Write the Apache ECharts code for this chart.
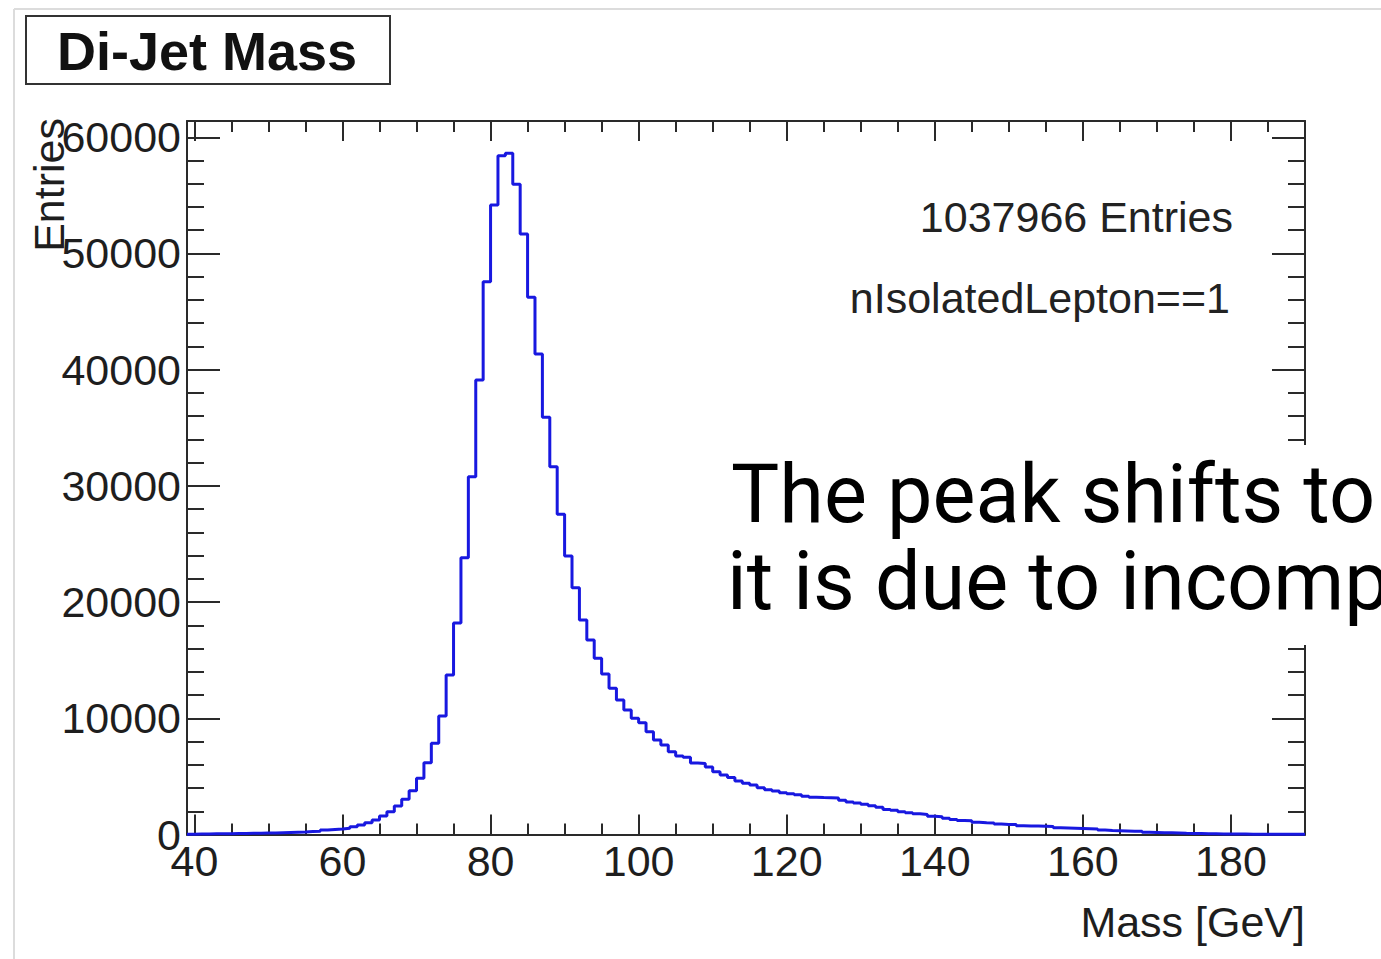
<!DOCTYPE html>
<html>
<head>
<meta charset="utf-8">
<script src="https://cdn.jsdelivr.net/npm/echarts@6/dist/echarts.min.js"></script>
<style>
html,body{margin:0;padding:0;background:#fff;}
#chart{width:1381px;height:959px;}
</style>
</head>
<body>
<div id="chart"></div>
<script>
// ---- data ----
const titleText = 'Di-Jet Mass';
const xAxisTitle = 'Mass [GeV]';
const yAxisTitle = 'Entries';
const statsLines = ['1037966 Entries', 'nIsolatedLepton==1'];
const overlayLines = ['The peak shifts to', 'it is due to incomp'];

const binLow = 39;      // lower edge of first bin (GeV)
const binWidth = 1;     // GeV
const xRange = [39, 190];
const yRange = [0, 61400];

// entries per 1 GeV bin, from 39 GeV to 190 GeV
const counts = [
  30, 40, 50, 55, 60, 70, 80, 90, 100, 110,            // 39-48
  120, 130, 150, 170, 190, 210, 250, 290, 380, 430,    // 49-58
  480, 540, 670, 820, 1010, 1250, 1590, 1960, 2450, 3030, // 59-68
  3770, 4840, 6180, 7850, 10200, 13730, 18200, 23820, 30790, 39110, // 69-78
  47570, 54170, 58420, 58620, 55960, 51680, 46230, 41350, 35900, 31650, // 79-88
  27560, 23970, 21240, 18460, 16740, 15160, 13810, 12580, 11580, 10710, // 89-98
  10000, 9620, 8850, 8130, 7700, 7130, 6760, 6650, 6150, 6100, // 99-108
  5800, 5400, 5120, 4900, 4600, 4400, 4250, 4030, 3850, 3750, // 109-118
  3600, 3500, 3420, 3300, 3200, 3180, 3170, 3150, 2950, 2800, // 119-128
  2700, 2600, 2480, 2340, 2150, 2080, 1950, 1880, 1780, 1720, // 129-138
  1580, 1530, 1400, 1300, 1200, 1180, 1050, 1010, 980, 900,   // 139-148
  870, 850, 760, 740, 730, 710, 690, 580, 560, 540,           // 149-158
  520, 500, 480, 380, 350, 330, 310, 290, 270, 200,           // 159-168
  180, 160, 140, 120, 100, 90, 80, 70, 60, 50,                // 169-178
  45, 40, 35, 30, 28, 25, 22, 20, 18, 15,                     // 179-188
  12                                                          // 189
];

const xMajorTicks = [40, 60, 80, 100, 120, 140, 160, 180];
const xMinorTicks = [45, 50, 55, 65, 70, 75, 85, 90, 95, 105, 110, 115, 125, 130, 135, 145, 150, 155, 165, 170, 175, 185];
const yMajorTicks = [0, 10000, 20000, 30000, 40000, 50000, 60000];
const yMinorTicks = [2000, 4000, 6000, 8000, 12000, 14000, 16000, 18000, 22000, 24000, 26000, 28000,
  32000, 34000, 36000, 38000, 42000, 44000, 46000, 48000, 52000, 54000, 56000, 58000];

// ---- build histogram outline (bin lower edges, plus closing edge) ----
const histData = counts.map((c, i) => [binLow + i * binWidth, c]);
histData.push([binLow + counts.length * binWidth, counts[counts.length - 1]]);

const FONT = '"Liberation Sans", Arial, sans-serif';
const frameColor = '#2a2a2a';
const labelColor = '#1e1e1e';
const plain = v => String(v);

function xAx(pos, ticks, len, showLine, showLabel) {
  return {
    type: 'value', position: pos, min: xRange[0], max: xRange[1],
    axisLine: { show: showLine, onZero: false, lineStyle: { color: frameColor, width: 2 } },
    axisTick: { show: true, inside: true, length: len, customValues: ticks, lineStyle: { color: frameColor, width: 2 } },
    axisLabel: showLabel ? { show: true, customValues: ticks, formatter: plain, fontSize: 43, fontFamily: FONT, color: labelColor, margin: 5 } : { show: false },
    splitLine: { show: false }
  };
}
function yAx(pos, ticks, len, showLine, showLabel) {
  return {
    type: 'value', position: pos, min: yRange[0], max: yRange[1],
    axisLine: { show: showLine, onZero: false, lineStyle: { color: frameColor, width: 2 } },
    axisTick: { show: true, inside: true, length: len, customValues: ticks, lineStyle: { color: frameColor, width: 2 } },
    axisLabel: showLabel ? { show: true, customValues: ticks, formatter: plain, fontSize: 43, fontFamily: FONT, color: labelColor, margin: 6 } : { show: false },
    splitLine: { show: false }
  };
}

const chart = echarts.init(document.getElementById('chart'), null, { renderer: 'svg' });
chart.setOption({
  animation: false,
  backgroundColor: '#ffffff',
  grid: { left: 187, top: 121, width: 1118, height: 713.5, containLabel: false },
  xAxis: [
    xAx('bottom', xMajorTicks, 20, true, true),
    xAx('bottom', xMinorTicks, 11, false, false),
    xAx('top', xMajorTicks, 20, true, false),
    xAx('top', xMinorTicks, 11, false, false)
  ],
  yAxis: [
    yAx('left', yMajorTicks, 33, true, true),
    yAx('left', yMinorTicks, 17, false, false),
    yAx('right', yMajorTicks, 33, true, false),
    yAx('right', yMinorTicks, 17, false, false)
  ],
  series: [{
    type: 'line',
    step: 'end',
    xAxisIndex: 0, yAxisIndex: 0,
    data: histData,
    showSymbol: false,
    clip: true,
    lineStyle: { color: '#1818e0', width: 3 },
    z: 3
  }],
  graphic: [
    // slide picture border
    { type: 'line', shape: { x1: 14, y1: 9, x2: 1381, y2: 9 }, style: { stroke: '#dcdcdc', lineWidth: 2 }, z: 1 },
    { type: 'line', shape: { x1: 14, y1: 9, x2: 14, y2: 959 }, style: { stroke: '#dcdcdc', lineWidth: 2 }, z: 1 },
    // title box
    { type: 'rect', shape: { x: 26, y: 16, width: 364, height: 68 }, style: { fill: '#fff', stroke: '#333', lineWidth: 2 }, z: 10 },
    { type: 'text', x: 207, y: 51, style: { text: titleText, font: 'bold 54px ' + FONT, fill: '#111', align: 'center', verticalAlign: 'middle' }, z: 11 },
    // axis titles
    { type: 'text', x: 49, y: 118, rotation: Math.PI / 2, style: { text: yAxisTitle, font: '43px ' + FONT, fill: labelColor, align: 'right', verticalAlign: 'middle' }, z: 11 },
    { type: 'text', x: 1305, y: 922, style: { text: xAxisTitle, font: '43px ' + FONT, fill: labelColor, align: 'right', verticalAlign: 'middle' }, z: 11 },
    // stats text
    { type: 'text', x: 1233, y: 217, style: { text: statsLines[0], font: '43px ' + FONT, fill: '#222', align: 'right', verticalAlign: 'middle' }, z: 11 },
    { type: 'text', x: 1230, y: 298, style: { text: statsLines[1], font: '43px ' + FONT, fill: '#222', align: 'right', verticalAlign: 'middle' }, z: 11 },
    // slide overlay box + text
    { type: 'rect', shape: { x: 715, y: 445, width: 700, height: 200 }, style: { fill: '#ffffff' }, z: 20 },
    { type: 'text', x: 731, y: 494, style: { text: overlayLines[0], font: '400 81px Roboto, ' + FONT, fill: '#000', align: 'left', verticalAlign: 'middle' }, z: 21 },
    { type: 'text', x: 727, y: 581, style: { text: overlayLines[1], font: '400 81px Roboto, ' + FONT, fill: '#000', align: 'left', verticalAlign: 'middle' }, z: 21 }
  ]
});
</script>
</body>
</html>
